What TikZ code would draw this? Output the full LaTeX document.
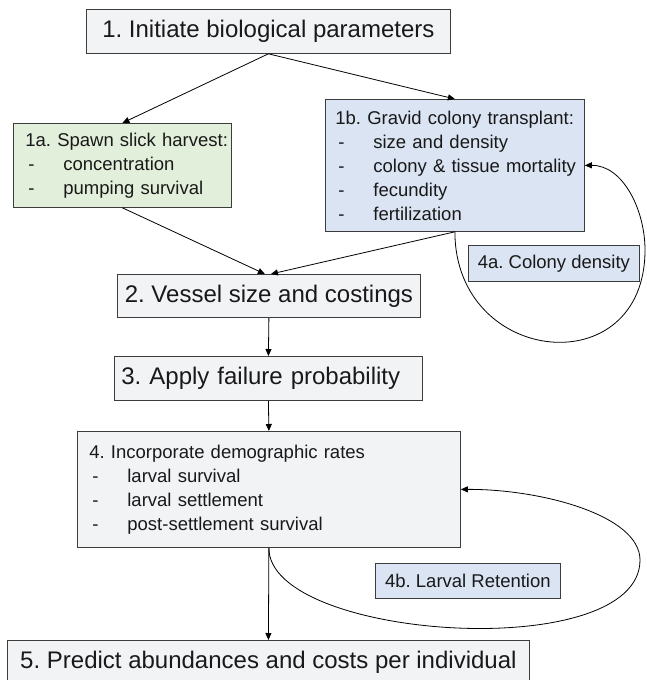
\documentclass[tikz,border=0pt]{standalone}
\usepackage{fontspec}
\setmainfont{Liberation Sans}
\usetikzlibrary{arrows.meta}
\frenchspacing

\definecolor{stagegray}{RGB}{242,243,245}
\definecolor{harvestgreen}{RGB}{226,239,218}
\definecolor{colonyblue}{RGB}{219,228,243}
\definecolor{boxline}{RGB}{60,60,60}

\newcommand{\itm}[1]{\mbox{\makebox[38pt][l]{\hspace{3pt}-}#1}}

\begin{document}
\begin{tikzpicture}[x=1pt,y=-1pt,
    every node/.style={draw=boxline,line width=0.8pt,anchor=north west,inner ysep=0pt,text=black!90},
    bigbox/.style={fill=stagegray,font=\fontsize{24}{28}\selectfont},
    smallbox/.style={font=\fontsize{18.5}{24}\selectfont},
    arr/.style={-{Triangle[length=7pt,width=6pt]},line width=0.8pt}]

    \useasboundingbox (0,0) rectangle (646,680);

    % Main stages
    \node[bigbox,minimum width=364pt,minimum height=44pt] (b1) at (86,9) {1. Initiate biological parameters};
    \node[bigbox,minimum width=303pt,minimum height=43pt] (b2) at (117,274) {2. Vessel size and costings};
    \node[bigbox,text width=294pt,inner xsep=7pt,minimum height=44pt,align=left] (b3) at (114,356) {3. Apply failure probability};
    \node[smallbox,fill=stagegray,text width=359pt,inner xsep=12pt,minimum height=116pt,align=left] (b4) at (77,431)
      {\mbox{4. Incorporate demographic rates}\\ \itm{larval survival}\\ \itm{larval settlement}\\ \itm{post-settlement survival}};
    \node[bigbox,minimum width=522pt,minimum height=43pt] (b5) at (7,640) {5. Predict abundances and costs per individual};

    % Sources of larvae
    \node[smallbox,fill=harvestgreen,text width=194pt,inner xsep=12pt,minimum height=84pt,align=left] (b1a) at (13,123)
      {\mbox{1a. Spawn slick harvest:}\\ \itm{concentration}\\ \itm{pumping survival}};
    \node[smallbox,fill=colonyblue,text width=239pt,inner xsep=10pt,minimum height=132pt,align=left] (b1b) at (325,99)
      {\mbox{1b. Gravid colony transplant:}\\ \itm{size and density}\\ \itm{colony \& tissue mortality}\\ \itm{fecundity}\\ \itm{fertilization}};

    % Feedback labels
    \node[smallbox,fill=colonyblue,minimum width=171pt,minimum height=36pt] (b4a) at (468,245) {4a. Colony density};
    \node[smallbox,fill=colonyblue,minimum width=185pt,minimum height=35pt] (b4b) at (375,563) {4b. Larval Retention};

    % Flow
    \draw[arr] (b1.south) -- (b1a.north);
    \draw[arr] (b1.south) -- (b1b.north);
    \draw[arr] (b1a.south) -- ([xshift=-4pt]b2.north);
    \draw[arr] (b1b.south) -- ([xshift=2pt]b2.north);
    \foreach \a/\b in {b2/b3,b3/b4,b4/b5} {
      \draw[arr] (\a.south) -- (\b.north);
    }

    % Loops
    \draw[arr] (b1b.south) .. controls (455,366) and (645,385) .. (645,250)
      .. controls (645,210) and (623,165) .. (b1b.east);
    \draw[arr] (b4.south) .. controls (268,640) and (640,665) .. (640,560)
      .. controls (640,515) and (540,489) .. (b4.east);
  \end{tikzpicture}
\end{document}
